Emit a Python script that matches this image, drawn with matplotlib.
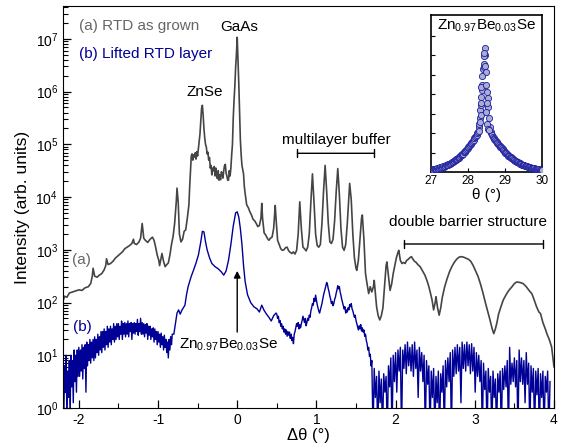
import matplotlib
matplotlib.use("Agg")
import matplotlib.pyplot as plt
import numpy as np
from matplotlib.ticker import LogLocator, FixedLocator, NullFormatter, MultipleLocator

plt.rcParams['font.family'] = ['Liberation Sans', 'DejaVu Sans']
plt.rcParams['mathtext.fontset'] = 'custom'
plt.rcParams['mathtext.rm'] = 'Liberation Sans'
plt.rcParams['mathtext.it'] = 'Liberation Sans:italic'

# ---- curve (a): RTD as grown, (delta theta, log10 intensity) ----
a_x = [-2.20, -2.18, -2.15, -2.12, -2.08, -2.04, -2.00, -1.96, -1.92, -1.88, -1.85, -1.83, -1.82, -1.80, -1.77,
       -1.74, -1.71, -1.68, -1.66, -1.65, -1.63, -1.60, -1.57, -1.54, -1.51, -1.48, -1.45, -1.42, -1.39, -1.36,
       -1.33, -1.31, -1.30, -1.27, -1.24, -1.22, -1.20, -1.18, -1.16, -1.13, -1.10, -1.07, -1.05, -1.03, -1.01,
       -0.99, -0.98, -0.96, -0.95, -0.93, -0.91, -0.89, -0.87, -0.85, -0.83, -0.81, -0.79, -0.77, -0.76, -0.745,
       -0.73, -0.71, -0.69, -0.67, -0.65, -0.63, -0.61, -0.60, -0.59, -0.58, -0.57, -0.56, -0.55, -0.54, -0.53,
       -0.52, -0.51, -0.50, -0.49, -0.48, -0.47, -0.46, -0.45, -0.44, -0.43, -0.42, -0.41, -0.40, -0.39, -0.38,
       -0.37, -0.36, -0.35, -0.34, -0.33, -0.32, -0.31, -0.30, -0.29, -0.28, -0.27, -0.26, -0.25, -0.24, -0.23,
       -0.22, -0.21, -0.20, -0.19, -0.18, -0.17, -0.16, -0.15, -0.14, -0.13, -0.12, -0.11, -0.10, -0.09, -0.08,
       -0.07, -0.06, -0.05, -0.04, -0.03, -0.02, -0.01, 0.00, 0.01, 0.02, 0.03, 0.04, 0.05, 0.06, 0.08,
       0.09, 0.10, 0.12, 0.14, 0.16, 0.18, 0.20, 0.22, 0.24, 0.26, 0.28, 0.30, 0.31, 0.32, 0.34,
       0.36, 0.38, 0.40, 0.42, 0.44, 0.46, 0.48, 0.49, 0.51, 0.53, 0.55, 0.57, 0.59, 0.61, 0.63,
       0.65, 0.67, 0.69, 0.71, 0.73, 0.75, 0.77, 0.79, 0.81, 0.83, 0.85, 0.87, 0.89, 0.91, 0.93,
       0.95, 0.97, 0.99, 1.01, 1.03, 1.05, 1.07, 1.09, 1.11, 1.13, 1.15, 1.17, 1.19, 1.21, 1.23,
       1.25, 1.27, 1.29, 1.31, 1.33, 1.35, 1.37, 1.39, 1.41, 1.42, 1.44, 1.46, 1.48, 1.50, 1.51,
       1.53, 1.55, 1.57, 1.58, 1.60, 1.62, 1.64, 1.66, 1.68, 1.70, 1.72, 1.73, 1.75, 1.76, 1.78,
       1.80, 1.82, 1.84, 1.86, 1.88, 1.89, 1.91, 1.93, 1.95, 1.97, 1.99, 2.01, 2.03, 2.04, 2.06,
       2.08, 2.10, 2.12, 2.14, 2.16, 2.18, 2.20, 2.22, 2.24, 2.26, 2.28, 2.31, 2.34, 2.37, 2.40,
       2.42, 2.44, 2.46, 2.48, 2.50, 2.51, 2.53, 2.55, 2.57, 2.59, 2.62, 2.65, 2.68, 2.71, 2.74,
       2.77, 2.80, 2.83, 2.86, 2.89, 2.92, 2.95, 2.98, 3.01, 3.04, 3.07, 3.10, 3.13, 3.16, 3.19,
       3.22, 3.24, 3.26, 3.28, 3.30, 3.33, 3.36, 3.40, 3.43, 3.47, 3.50, 3.53, 3.57, 3.61, 3.65,
       3.69, 3.72, 3.75, 3.78, 3.81, 3.83, 3.86, 3.89, 3.91, 3.94, 3.97, 3.99, 4.00]
a_log = [2.02, 2.12, 2.10, 2.18, 2.20, 2.22, 2.24, 2.23, 2.28, 2.30, 2.36, 2.50, 2.65, 2.50, 2.48,
         2.52, 2.55, 2.62, 2.70, 2.83, 2.72, 2.74, 2.78, 2.84, 2.88, 2.92, 2.96, 3.02, 3.05, 3.08,
         3.12, 3.20, 3.12, 3.10, 3.15, 3.22, 3.50, 3.22, 3.18, 3.14, 3.20, 3.24, 3.18, 3.05, 2.90,
         2.80, 2.70, 2.85, 2.93, 2.78, 2.68, 2.72, 2.75, 2.90, 3.10, 3.25, 3.50, 3.90, 4.17, 3.90,
         3.30, 3.15, 3.20, 3.35, 3.38, 3.60, 3.85, 4.20, 4.50, 4.78, 4.82, 4.70, 4.80, 4.76, 4.84,
         4.72, 4.86, 4.78, 4.92, 5.05, 5.20, 5.45, 5.68, 5.74, 5.55, 5.30, 5.12, 5.00, 4.95, 4.82,
         4.85, 4.70, 4.75, 4.55, 4.60, 4.42, 4.55, 4.50, 4.58, 4.40, 4.55, 4.42, 4.35, 4.50, 4.32,
         4.42, 4.33, 4.48, 4.45, 4.36, 4.50, 4.60, 4.62, 4.45, 4.40, 4.32, 4.32, 4.50, 4.40, 4.55,
         4.80, 5.00, 5.50, 5.83, 6.10, 6.46, 6.70, 7.03, 6.60, 6.15, 5.60, 5.08, 4.80, 4.60, 4.44,
         4.20, 4.07, 3.85, 3.80, 3.72, 3.66, 3.58, 3.55, 3.50, 3.44, 3.46, 3.60, 3.88, 3.60, 3.32,
         3.28, 3.22, 3.18, 3.22, 3.24, 3.40, 3.84, 3.60, 3.18, 3.10, 3.02, 2.99, 3.00, 3.04, 3.05,
         2.98, 2.95, 2.93, 2.96, 2.92, 2.99, 3.30, 3.91, 3.40, 3.05, 3.02, 2.98, 3.05, 3.30, 3.90,
         4.44, 3.90, 3.30, 3.08, 3.05, 3.10, 3.50, 4.10, 4.60, 4.10, 3.50, 3.15, 3.12, 3.20, 3.55,
         4.10, 4.54, 4.05, 3.40, 3.05, 2.99, 3.10, 3.50, 4.00, 4.26, 3.95, 3.30, 2.85, 2.65, 2.61,
         2.80, 3.20, 3.60, 3.66, 3.20, 2.55, 2.35, 2.17, 2.30, 2.20, 2.30, 2.42, 2.10, 1.92, 1.75,
         1.67, 1.75, 1.90, 2.30, 2.70, 2.77, 2.50, 2.23, 2.35, 2.55, 2.70, 2.85, 2.95, 2.99, 2.80,
         2.74, 2.76, 2.74, 2.80, 2.82, 2.85, 2.87, 2.82, 2.78, 2.76, 2.72, 2.68, 2.60, 2.52, 2.40,
         2.30, 2.18, 2.05, 1.86, 2.00, 2.11, 1.90, 1.76, 1.90, 2.10, 2.30, 2.45, 2.58, 2.68, 2.76,
         2.82, 2.86, 2.87, 2.86, 2.84, 2.82, 2.78, 2.70, 2.60, 2.50, 2.36, 2.20, 2.02, 1.85, 1.68,
         1.50, 1.41, 1.50, 1.62, 1.78, 1.92, 2.05, 2.16, 2.23, 2.30, 2.36, 2.39, 2.38, 2.36, 2.30,
         2.22, 2.17, 2.05, 1.92, 1.82, 1.79, 1.62, 1.50, 1.41, 1.30, 1.16, 0.90, 0.78]

# ---- curve (b): lifted RTD layer ----
# noisy tail on the left, sampled every 0.01 from -2.20 to -0.82
b_left_start, b_left_step = -2.20, 0.01
b_left_log = [0.90, -0.20, 0.80, 0.30, 1.00, -0.30, 0.70, 0.20, 0.90, -0.20,
              1.00, 0.40, 0.90, 0.10, 1.10, 0.50, 1.00, 0.30, 1.10, 0.60,
              1.15, 0.60, 1.10, 0.70, 1.20, 0.55, 1.15, 0.75, 1.20, 0.30,
              1.25, 0.80, 1.20, 0.90, 1.30, 0.85, 1.25, 0.95, 1.30, 0.90,
              1.35, 0.95, 1.30, 1.05, 1.40, 1.00, 1.35, 1.10, 1.45, 1.05,
              1.45, 1.15, 1.50, 1.10, 1.45, 1.20, 1.55, 1.15, 1.50, 1.25,
              1.55, 1.20, 1.50, 1.30, 1.60, 1.25, 1.55, 1.30, 1.60, 1.35,
              1.60, 1.30, 1.55, 1.40, 1.65, 1.30, 1.60, 1.40, 1.62, 1.35,
              1.60, 1.40, 1.65, 1.35, 1.60, 1.45, 1.62, 1.30, 1.60, 1.42,
              1.62, 1.40, 1.60, 1.45, 1.68, 1.38, 1.60, 1.45, 1.70, 1.40,
              1.62, 1.40, 1.60, 1.35, 1.58, 1.42, 1.60, 1.30, 1.55, 1.38,
              1.55, 1.30, 1.50, 1.35, 1.52, 1.25, 1.50, 1.30, 1.45, 1.20,
              1.45, 1.25, 1.40, 1.15, 1.42, 1.20, 1.35, 1.10, 1.38, 1.15,
              1.30, 1.05, 1.25, 0.95, 1.30, 1.10, 1.35, 1.20, 1.40]

# layer peak and substrate peak region
b_mid_x = [-0.80, -0.78, -0.76, -0.74, -0.72, -0.70, -0.68, -0.66, -0.64, -0.62, -0.58, -0.55, -0.52, -0.49,
           -0.46, -0.44, -0.42, -0.40, -0.38, -0.35, -0.32, -0.28, -0.24, -0.20, -0.17, -0.14, -0.11, -0.08,
           -0.05, -0.02, 0.00, 0.02, 0.04, 0.06, 0.08, 0.10, 0.13, 0.17, 0.21, 0.25, 0.28, 0.31, 0.34,
           0.37, 0.40, 0.43, 0.46, 0.49]
b_mid_log = [1.40, 1.60, 1.80, 1.86, 1.78, 1.85, 1.90, 1.95, 2.15, 2.30, 2.50, 2.62, 2.75, 2.90,
             3.15, 3.35, 3.34, 3.15, 3.00, 2.85, 2.74, 2.68, 2.64, 2.58, 2.52, 2.60, 2.80, 3.10,
             3.45, 3.70, 3.72, 3.62, 3.40, 3.10, 2.70, 2.40, 2.15, 2.00, 1.92, 1.88, 1.82, 1.95, 1.85,
             1.78, 1.72, 1.65, 1.75, 1.80]

# multilayer fringes, sampled every 0.01 from 0.50 to 1.69
b_fr_start, b_fr_step = 0.50, 0.01
b_fr_log = [1.78, 1.70, 1.74, 1.62, 1.66, 1.55, 1.60, 1.50, 1.55, 1.44,
            1.50, 1.40, 1.48, 1.36, 1.45, 1.38, 1.44, 1.32, 1.40, 1.28,
            1.34, 1.22, 1.40, 1.45, 1.52, 1.60, 1.55, 1.62, 1.50, 1.58,
            1.52, 1.60, 1.66, 1.74, 1.68, 1.62, 1.70, 1.56, 1.62, 1.70,
            1.66, 1.76, 1.72, 1.84, 1.90, 1.98, 1.95, 2.08, 2.02, 2.14,
            2.05, 1.96, 1.90, 1.84, 1.80, 1.86, 1.92, 1.98, 2.06, 2.14,
            2.20, 2.26, 2.32, 2.38, 2.34, 2.26, 2.20, 2.12, 2.06, 1.98,
            2.02, 1.94, 1.98, 2.06, 2.10, 2.18, 2.24, 2.32, 2.26, 2.30,
            2.20, 2.14, 2.06, 2.00, 1.94, 1.88, 1.92, 1.80, 1.86, 1.82,
            1.90, 1.86, 1.96, 1.92, 1.98, 1.88, 1.84, 1.78, 1.72, 1.76,
            1.66, 1.60, 1.54, 1.48, 1.56, 1.50, 1.58, 1.46, 1.52, 1.44,
            1.48, 1.36, 1.40, 1.28, 1.22, 1.10, 1.15, 0.98, 1.02, 0.80]

# double barrier oscillations (near noise floor), every 0.015 from 1.70 to 3.95
b_db_start, b_db_step = 1.70, 0.015
b_db_log = [0.90, -0.5, 0.75, 0.20, 0.60, -0.5, 0.70, 0.10, 0.55, -0.5,
            0.65, 0.30, 0.60, -0.5, 0.80, 0.40, 0.95, -0.5, 1.00, 0.50,
            1.05, 0.30, 1.10, 0.70, 1.15, -0.5, 1.10, 0.75, 1.20, 0.65,
            1.25, 0.80, 1.15, 0.70, 1.20, 0.60, 1.25, 0.75, 1.10, 0.20,
            1.15, 0.70, 1.05, 0.50, 1.00, -0.5, 0.90, 0.45, 0.80, -0.5,
            0.70, 0.20, 0.75, -0.5, 0.60, 0.10, 0.70, -0.5, 0.65, 0.30,
            0.80, -0.5, 0.90, 0.40, 0.95, 0.50, 1.05, -0.5, 1.10, 0.60,
            1.15, 0.65, 1.20, 0.70, 1.15, 0.10, 1.25, 0.75, 1.20, 0.70,
            1.25, 0.80, 1.20, 0.65, 1.22, 0.70, 1.15, 0.30, 1.05, 0.60,
            1.00, 0.50, 0.90, -0.5, 0.85, 0.35, 0.70, -0.5, 0.75, 0.30,
            0.60, -0.5, 0.70, 0.20, 0.55, -0.5, 0.65, 0.30, 0.70, -0.5,
            0.75, 0.35, 0.80, 0.40, 0.90, -0.5, 1.15, 0.45, 0.85, 0.50,
            0.95, 0.40, 0.90, -0.5, 1.10, 0.50, 0.95, 0.45, 0.90, 0.10,
            1.05, 0.45, 0.85, -0.5, 0.80, 0.30, 0.75, -0.5, 0.70, 0.25,
            0.75, -0.5, 0.65, 0.20, 0.70, -0.5, 0.60, 0.30, 0.70, -0.5,
            0.50]

# ---- inset: Zn0.97Be0.03Se peak, theta (deg) vs intensity ----
ins_start, ins_step = 27.00, 0.02
ins_y = [0.08, 0.12, 0.10, 0.14, 0.12, 0.16, 0.14, 0.18, 0.15, 0.20,
         0.18, 0.22, 0.20, 0.25, 0.22, 0.27, 0.26, 0.30, 0.28, 0.33,
         0.32, 0.36, 0.34, 0.40, 0.38, 0.43, 0.42, 0.47, 0.46, 0.52,
         0.50, 0.56, 0.55, 0.62, 0.60, 0.66, 0.66, 0.72, 0.74, 0.78,
         0.80, 0.86, 0.88, 0.94, 0.95, 1.02, 1.04, 1.10, 1.12, 1.20,
         1.22, 1.28, 1.32, 1.38, 1.42, 1.48, 1.52, 1.60, 1.64, 1.72,
         1.78, 1.84, 1.90, 1.98, 2.05, 2.30, 2.75, 3.18, 3.44, 4.20,
         4.46, 5.30, 5.40, 6.37, 6.00, 5.14, 4.12, 3.78, 3.35, 2.75,
         2.32, 2.07, 1.98, 1.90, 1.82, 1.76, 1.70, 1.66, 1.60, 1.55,
         1.50, 1.46, 1.40, 1.36, 1.30, 1.28, 1.22, 1.18, 1.12, 1.08,
         1.05, 0.98, 0.96, 0.92, 0.88, 0.84, 0.82, 0.78, 0.76, 0.72,
         0.70, 0.66, 0.64, 0.60, 0.58, 0.55, 0.54, 0.50, 0.49, 0.46,
         0.45, 0.42, 0.41, 0.38, 0.38, 0.35, 0.34, 0.32, 0.31, 0.29,
         0.30, 0.27, 0.27, 0.25, 0.24, 0.23, 0.22, 0.21, 0.20, 0.19,
         0.19, 0.17, 0.17, 0.15, 0.15, 0.14, 0.13, 0.12, 0.12, 0.11,
         0.10]
peak_x = [28.30, 28.31, 28.33, 28.35, 28.36, 28.37, 28.37, 28.39, 28.43,
          28.44, 28.45, 28.47, 28.49, 28.50, 28.51, 28.53, 28.55, 28.57]
peak_y = [2.10, 2.45, 2.55, 2.95, 3.55, 3.85, 4.35, 4.90, 5.95,
          5.55, 6.10, 5.45, 4.45, 3.10, 3.55, 2.45, 2.20, 2.15]

grey = '#454545'
navy = '#000096'


def grid(start, step, vals):
    return start + step * np.arange(len(vals))


b_x = np.concatenate([grid(b_left_start, b_left_step, b_left_log), b_mid_x,
                      grid(b_fr_start, b_fr_step, b_fr_log), grid(b_db_start, b_db_step, b_db_log)])
b_log = np.concatenate([b_left_log, b_mid_log, b_fr_log, b_db_log])

fig = plt.figure(figsize=(5.81, 4.48), dpi=100)
ax = fig.add_axes([0.1084, 0.0893, 0.8451, 0.8973])

ax.plot(a_x, 10.0 ** np.array(a_log), color=grey, lw=1.2)
ax.plot(b_x, 10.0 ** b_log, color=navy, lw=1.0)

ax.set_yscale('log')
ax.set_xlim(-2.2, 4.0)
ax.set_ylim(1, 4.2e7)
ax.xaxis.set_major_locator(FixedLocator([-2, -1, 0, 1, 2, 3, 4]))
ax.xaxis.set_minor_locator(MultipleLocator(0.5))
ax.yaxis.set_major_locator(LogLocator(base=10, numticks=20))
ax.yaxis.set_minor_locator(LogLocator(base=10, subs=np.arange(2, 10), numticks=20))
ax.yaxis.set_minor_formatter(NullFormatter())
ax.tick_params(which='both', direction='in', top=False, right=False, labelsize=10)
ax.tick_params(which='major', length=6, width=0.9)
ax.tick_params(which='minor', length=3.5, width=0.8)
ax.set_xticklabels(['-2', '-1', '0', '1', '2', '3', '4'])
ax.set_xlabel('Δθ (°)', fontsize=12, labelpad=1)
ax.set_ylabel('Intensity (arb. units)', fontsize=12.5, labelpad=4)

# annotations
ax.text(-2.0, 10 ** 7.25, '(a) RTD as grown', color='#666666', fontsize=11, va='center')
ax.text(-2.0, 10 ** 6.72, '(b) Lifted RTD layer', color=navy, fontsize=11, va='center')
ax.text(0.02, 10 ** 7.22, 'GaAs', fontsize=11, ha='center', va='center')
ax.text(-0.41, 10 ** 6.0, 'ZnSe', fontsize=11, ha='center', va='center')
ax.text(1.25, 10 ** 5.08, 'multilayer buffer', fontsize=11, ha='center', va='center')
ax.text(2.92, 10 ** 3.52, 'double barrier structure', fontsize=11, ha='center', va='center')
ax.annotate('', xy=(0.76, 10 ** 4.83), xytext=(1.73, 10 ** 4.83),
            arrowprops=dict(arrowstyle='|-|', lw=1.0, mutation_scale=3, shrinkA=0, shrinkB=0))
ax.annotate('', xy=(2.11, 10 ** 3.11), xytext=(3.86, 10 ** 3.11),
            arrowprops=dict(arrowstyle='|-|', lw=1.0, mutation_scale=3, shrinkA=0, shrinkB=0))
ax.text(-2.08, 10 ** 2.80, '(a)', color='#666666', fontsize=11, va='center')
ax.text(-2.07, 10 ** 1.53, '(b)', color=navy, fontsize=11, va='center')
ax.annotate('', xy=(0.0, 10 ** 2.6), xytext=(0.0, 10 ** 1.44),
            arrowprops=dict(arrowstyle='-|>', color='black', lw=1.0, mutation_scale=10, shrinkA=0, shrinkB=0))
ax.text(-0.11, 10 ** 1.19, 'Zn$_{0.97}$Be$_{0.03}$Se', fontsize=11, ha='center', va='center')

# inset
ins = fig.add_axes([0.741, 0.616, 0.1916, 0.3504])
ins_x = grid(ins_start, ins_step, ins_y)
ins.scatter(ins_x, ins_y, s=20, facecolor='#a9adcf', edgecolor='#1c1ca0', linewidths=0.6, zorder=3)
ins.scatter(peak_x, peak_y, s=20, facecolor='#a9adcf', edgecolor='#1c1ca0', linewidths=0.6, zorder=3)
ins.set_xlim(27, 30)
ins.set_ylim(0, 8.05)
ins.set_xticks([27, 28, 29, 30])
ins.set_yticks([1, 2, 3, 4, 5, 6, 7])
ins.set_yticklabels([])
ins.tick_params(direction='in', length=3, labelsize=8.5, pad=2, top=False, right=False)
ins.set_xlabel('θ (°)', fontsize=11, labelpad=1)
ins.text(0.5, 0.93, 'Zn$_{0.97}$Be$_{0.03}$Se', transform=ins.transAxes, fontsize=11,
         ha='center', va='center')
for s in ins.spines.values():
    s.set_linewidth(1.2)

fig.savefig('out.png', dpi=100)
